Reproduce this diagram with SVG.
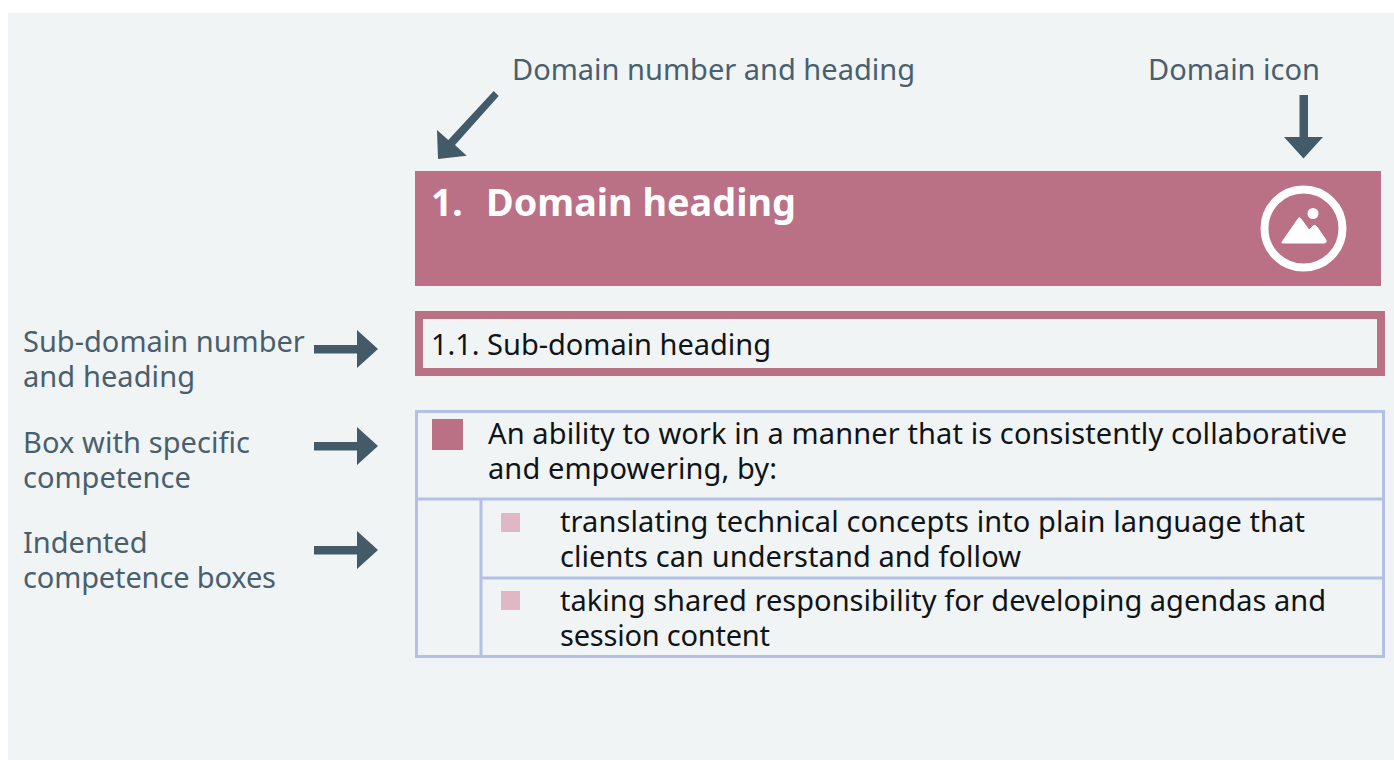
<svg xmlns="http://www.w3.org/2000/svg" width="1394" height="760" viewBox="0 0 1394 760">
<style>
text{font-family:"Noto Sans","Open Sans","Liberation Sans",sans-serif;font-size:29px}
.lab{fill:#4a5f6e}
.body{fill:#111417}
.line{fill:none;stroke:#b3c1e6;stroke-width:3}
.arrow{fill:#435a69}
</style>
<rect x="8" y="13" width="1386" height="747" fill="#f0f4f5"/>
<g id="connectors">
<path class="arrow" d="M493.700 91L498.700 96L455 145L466.700 155.700L438 159L437 130L448.300 140Z"/>
<path class="arrow" d="M1299.500 95H1308V137H1323L1303.500 158.500L1284 137H1299.500Z"/>
<path class="arrow" d="M314 345H357V330L378 349L357 368V353.500H314Z"/>
<path class="arrow" d="M314 442H357V427L378 446L357 465V450.500H314Z"/>
<path class="arrow" d="M314 546H357V531L378 550L357 569V554.500H314Z"/>
</g>
<g id="label-domain"><text class="lab" x="512" y="80" textLength="403">Domain number and heading</text></g>
<g id="label-icon"><text class="lab" x="1148" y="80" textLength="172">Domain icon</text></g>
<g id="label-sub"><text class="lab" x="23" y="352">Sub-domain number</text><text class="lab" x="23" y="387" textLength="172">and heading</text></g>
<g id="label-box"><text class="lab" x="23" y="453" textLength="227">Box with specific</text><text class="lab" x="23" y="488">competence</text></g>
<g id="label-indented"><text class="lab" x="23" y="553">Indented</text><text class="lab" x="23" y="588" textLength="253">competence boxes</text></g>
<g id="domain-heading">
<rect x="415" y="171" width="966" height="115" fill="#ba7085"/>
<text x="431" y="216" fill="#fff" font-weight="700" style="font-size:37px">1.</text>
<text x="486" y="216" fill="#fff" font-weight="700" style="font-size:37.800px">Domain heading</text>
<circle cx="1303.500" cy="228.500" r="39" fill="none" stroke="#fff" stroke-width="8"/>
<circle cx="1313" cy="213.500" r="5.500" fill="#fff"/>
<path d="M1282 242L1298 219Q1299 216 1301 219L1309 230L1313 226Q1315 224 1317 227L1326 240Q1327 243 1324 243H1283Q1281 243 1282 242Z" fill="#fff" stroke="#fff" stroke-width="1"/>
</g>
<g id="sub-domain">
<rect x="419" y="315" width="962" height="57" fill="none" stroke="#ba7085" stroke-width="8"/>
<text class="body" x="431" y="355" textLength="340">1.1. Sub-domain heading</text>
</g>
<g id="competence">
<rect class="line" x="416.500" y="411.500" width="967" height="245"/>
<path class="line" d="M416.500 499H1383.500"/>
<rect x="432" y="419" width="31" height="31" fill="#ba7085"/>
<text class="body" x="488" y="444" textLength="859">An ability to work in a manner that is consistently collaborative</text>
<text class="body" x="488" y="479" textLength="289">and empowering, by:</text>
</g>
<g id="indented-1">
<path class="line" d="M481 499V656M481 578H1383.500"/>
<rect x="501" y="513" width="19" height="19" fill="#e0b7c4"/>
<text class="body" x="560" y="532" textLength="745">translating technical concepts into plain language that</text>
<text class="body" x="560" y="567" textLength="461">clients can understand and follow</text>
</g>
<g id="indented-2">
<rect x="501" y="591" width="19" height="19" fill="#e0b7c4"/>
<text class="body" x="560" y="611" textLength="766">taking shared responsibility for developing agendas and</text>
<text class="body" x="560" y="646" textLength="210">session content</text>
</g>
</svg>
